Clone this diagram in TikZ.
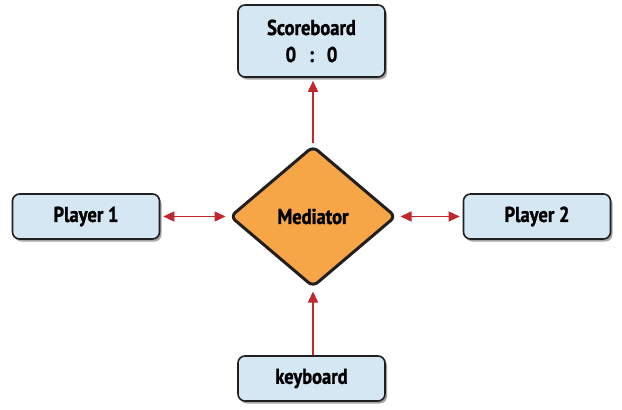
\documentclass[tikz,border=0pt]{standalone}
\usepackage{fontspec}
\setmainfont{PT Sans}[FakeStretch=0.86, BoldFeatures={FakeBold=1.2}]
\usetikzlibrary{shapes.geometric,shadows,arrows.meta}
\definecolor{boxblue}{HTML}{D6E7F4}
\definecolor{medorange}{HTML}{F6A646}
\definecolor{arrred}{HTML}{C1272D}
\definecolor{edgedark}{HTML}{231F20}
\tikzset{
  box/.style={draw=edgedark, line width=1.6pt, fill=boxblue, rounded corners=7pt,
    minimum width=147pt, inner sep=0pt, align=center,
    font=\fontsize{21.5}{25}\selectfont\bfseries,
    drop shadow={shadow xshift=2pt, shadow yshift=-2.5pt, fill=black, opacity=0.35}},
  med/.style={diamond, draw=edgedark, line width=3pt, fill=medorange, rounded corners=6pt,
    minimum width=166pt, minimum height=141pt, inner sep=0pt,
    font=\fontsize{21.5}{25}\selectfont\bfseries},
  link/.style={draw=arrred, line width=1.5pt},
  tip/.style={-{Triangle[length=11pt,width=10pt]}},
  dtip/.style={{Triangle[length=11pt,width=10pt]}-{Triangle[length=11pt,width=10pt]}}
}
\begin{document}
\begin{tikzpicture}[x=1pt,y=-1pt]
\useasboundingbox (0,0) rectangle (622,410);
\node[box, minimum height=72pt] (score) at (311.5,41) {Scoreboard\\[2pt]0\hspace{0.6em}:\hspace{0.6em}0};
\node[box, minimum height=45pt] (p1) at (86,216.5) {Player 1};
\node[box, minimum height=45pt] (p2) at (537,216.5) {Player 2};
\node[box, minimum height=45pt] (kb) at (311.5,378.5) {keyboard};
\node[med] (m) at (313,216.5) {Mediator};
\draw[link, dtip, shorten <=3pt, shorten >=3pt] (p1.east) -- (m.west);
\draw[link, dtip, shorten <=3pt, shorten >=3pt] (m.east) -- (p2.west);
\draw[link, tip, shorten <=2pt, shorten >=3pt] (m.north) -- (m.north |- score.south);
\draw[link, tip, shorten >=3pt] (kb.north -| m.south) -- (m.south);
\end{tikzpicture}
\end{document}
